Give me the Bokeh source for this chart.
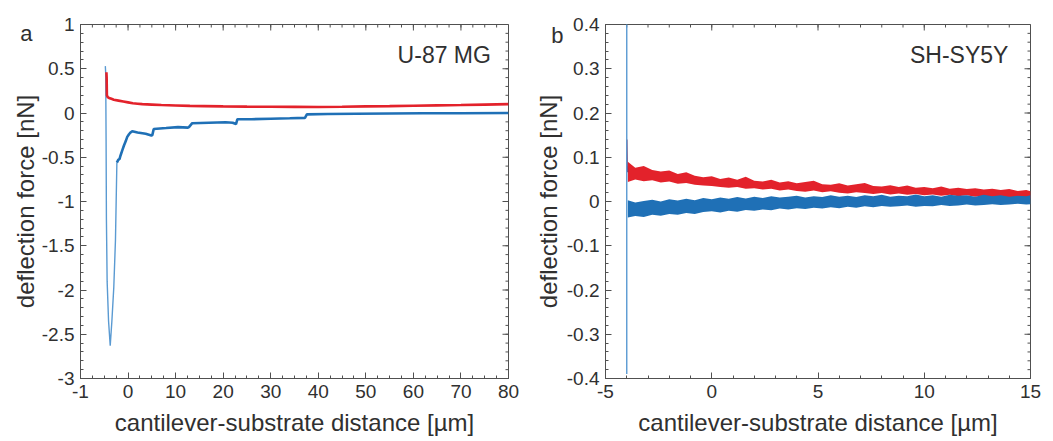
import numpy as np
from bokeh.plotting import figure
from bokeh.models import FixedTicker, Label, LinearAxis
from bokeh.layouts import row
from bokeh.embed import file_html
from bokeh.resources import INLINE

FONT = "Liberation Sans"
TXT = "#303030"
AX = "#505050"
RED = "#e3222b"
BLUE = "#1f70b6"
LIGHTBLUE = "#5a9ad2"

# ---------------- panel a : U-87 MG ----------------
a_red_x = [-4.55, -4.5, -4.45, -4.3, -4.0, -3.5, -3.0, -2.0, -1.0, 0.0, 1.0, 2.0, 3.0, 5.0, 7.0,
           10.0, 13.0, 16.0, 20.0, 25.0, 30.0, 35.0, 40.0, 45.0, 50.0, 55.0, 60.0, 65.0, 70.0, 75.0, 80.0]
a_red_y = [0.46, 0.40, 0.20, 0.18, 0.17, 0.16, 0.15, 0.14, 0.13, 0.12, 0.11, 0.105, 0.10, 0.095, 0.09,
           0.085, 0.08, 0.078, 0.075, 0.072, 0.07, 0.069, 0.068, 0.071, 0.075, 0.078, 0.082, 0.086, 0.09, 0.095, 0.10]

a_dip_x = [-4.78, -4.7, -4.62, -4.55, -4.4, -4.1, -3.75, -3.4, -3.0, -2.65, -2.5, -2.35]
a_dip_y = [0.53, 0.45, -0.3, -1.2, -1.9, -2.35, -2.63, -2.35, -1.97, -1.44, -1.0, -0.56]

a_blue_x = [-2.35, -2.06, -1.8, -1.58, -1.2, -0.88, -0.5, -0.17, 0.2, 0.53, 0.88, 2.0, 3.7, 4.9, 5.1,
            5.4, 8.0, 10.5, 12.6, 12.8, 13.5, 17.0, 20.5, 22.0, 22.7, 23.0, 26.0, 30.0, 34.0, 37.2,
            37.6, 42.0, 48.0, 55.0, 62.0, 70.0, 80.0]
a_blue_y = [-0.56, -0.53, -0.52, -0.48, -0.42, -0.37, -0.32, -0.27, -0.24, -0.22, -0.205, -0.22, -0.235, -0.255, -0.25,
            -0.18, -0.17, -0.16, -0.165, -0.16, -0.115, -0.11, -0.105, -0.11, -0.125, -0.07, -0.07, -0.065, -0.06, -0.055,
            -0.015, -0.012, -0.008, -0.005, -0.003, -0.002, 0.0]

a_xticks = [-10, 0, 10, 20, 30, 40, 50, 60, 70, 80]
a_xlabels = ["-1", "0", "10", "20", "30", "40", "50", "60", "70", "80"]
a_yticks = [-3, -2.5, -2, -1.5, -1, -0.5, 0, 0.5, 1]
a_ylabels = ["-3", "-2.5", "-2", "-1.5", "-1", "-0.5", "0", "0.5", "1"]

# ---------------- panel b : SH-SY5Y ----------------
b_x = [-3.95, -3.6, -3.2, -2.8, -2.4, -2.0, -1.6, -1.2, -0.8, -0.4, 0.0, 0.4, 0.8, 1.2, 1.6, 2.0, 2.4,
       2.8, 3.2, 3.6, 4.0, 4.4, 4.8, 5.2, 5.6, 6.0, 6.4, 6.8, 7.2, 7.6, 8.0, 8.4, 8.8, 9.2, 9.6, 10.0,
       10.4, 10.8, 11.2, 11.6, 12.0, 12.4, 12.8, 13.2, 13.6, 14.0, 14.4, 14.8, 15.0]
b_red_hi = [0.090, 0.076, 0.080, 0.071, 0.068, 0.070, 0.062, 0.066, 0.058, 0.055, 0.057, 0.051, 0.054, 0.049,
            0.056, 0.047, 0.045, 0.049, 0.043, 0.046, 0.041, 0.044, 0.047, 0.039, 0.038, 0.041, 0.036, 0.039,
            0.042, 0.035, 0.034, 0.037, 0.033, 0.036, 0.031, 0.033, 0.030, 0.034, 0.029, 0.031, 0.028, 0.030,
            0.027, 0.029, 0.026, 0.028, 0.024, 0.026, 0.023]
b_red_lo = [0.044, 0.050, 0.046, 0.048, 0.043, 0.045, 0.040, 0.042, 0.038, 0.036, 0.035, 0.033, 0.031, 0.033,
            0.029, 0.030, 0.027, 0.029, 0.025, 0.027, 0.024, 0.022, 0.025, 0.021, 0.023, 0.020, 0.018, 0.021,
            0.019, 0.017, 0.019, 0.016, 0.018, 0.015, 0.017, 0.014, 0.016, 0.013, 0.015, 0.012, 0.014, 0.011,
            0.013, 0.010, 0.012, 0.009, 0.010, 0.008, 0.007]
b_blue_hi = [0.003, -0.002, 0.001, 0.004, 0.000, 0.005, 0.002, 0.006, 0.003, 0.008, 0.005, 0.009, 0.006, 0.010,
             0.007, 0.011, 0.008, 0.012, 0.009, 0.011, 0.013, 0.009, 0.012, 0.010, 0.014, 0.011, 0.013, 0.010,
             0.014, 0.012, 0.015, 0.011, 0.013, 0.012, 0.016, 0.012, 0.014, 0.011, 0.015, 0.013, 0.014, 0.011,
             0.015, 0.012, 0.014, 0.011, 0.013, 0.012, 0.014]
b_blue_lo = [-0.036, -0.033, -0.035, -0.030, -0.032, -0.028, -0.030, -0.026, -0.028, -0.024, -0.022, -0.025,
             -0.021, -0.023, -0.019, -0.021, -0.018, -0.020, -0.016, -0.018, -0.015, -0.017, -0.014, -0.016,
             -0.013, -0.015, -0.012, -0.014, -0.011, -0.013, -0.010, -0.012, -0.011, -0.009, -0.012, -0.010,
             -0.011, -0.008, -0.010, -0.009, -0.007, -0.009, -0.008, -0.006, -0.008, -0.007, -0.005, -0.007, -0.006]
b_spike_x = [-4.0, -4.0]
b_spike_y = [0.45, -0.39]
b_redspike_x = [-4.0, -3.98, -3.95]
b_redspike_y = [0.14, 0.08, 0.066]

b_xticks = [-5, 0, 5, 10, 15]
b_xlabels = ["-5", "0", "5", "10", "15"]
b_yticks = [-0.4, -0.3, -0.2, -0.1, 0, 0.1, 0.2, 0.3, 0.4]
b_ylabels = ["-0.4", "-0.3", "-0.2", "-0.1", "0", "0.1", "0.2", "0.3", "0.4"]

FIG_H = 441
B_TOP, B_BOT = 24, 63


def style_axis(ax, ticker, labels, title):
    ax.ticker = ticker
    ax.major_tick_in = 6
    ax.major_tick_out = 0
    ax.minor_tick_in = 3
    ax.minor_tick_out = 0
    ax.axis_line_color = AX
    ax.major_tick_line_color = AX
    ax.minor_tick_line_color = AX
    ax.major_label_text_font = FONT
    ax.major_label_text_color = TXT
    ax.major_label_text_font_size = "19px"
    ax.major_label_standoff = 6
    ax.major_label_overrides = labels
    if title:
        ax.axis_label = title
        ax.axis_label_text_font = FONT
        ax.axis_label_text_font_size = "24px"
        ax.axis_label_text_font_style = "normal"
        ax.axis_label_text_color = TXT
        ax.axis_label_standoff = 8


def make_fig(width, xr, yr, xt, xminor, xl, yt, yminor, yl, bl, br, letter, letter_y, letter_off, lab_off):
    p = figure(width=width, height=FIG_H, x_range=xr, y_range=yr,
               output_backend="svg", toolbar_location=None,
               min_border_left=bl, min_border_right=br, min_border_top=B_TOP, min_border_bottom=B_BOT)
    p.grid.visible = False
    p.outline_line_color = AX
    p.background_fill_color = "white"
    p.border_fill_color = "white"
    style_axis(p.xaxis[0], FixedTicker(ticks=xt, minor_ticks=xminor), dict(zip(xt, xl)),
               "cantilever-substrate distance [µm]")
    style_axis(p.yaxis[0], FixedTicker(ticks=yt, minor_ticks=yminor), dict(zip(yt, yl)), None)
    # outer left axis: carries the panel letter and the y title
    outer = LinearAxis(ticker=FixedTicker(ticks=[letter_y]), major_label_overrides={letter_y: letter})
    outer.axis_line_color = None
    outer.major_tick_line_color = None
    outer.minor_tick_line_color = None
    outer.major_tick_in = 0
    outer.major_tick_out = 0
    outer.major_label_text_font = FONT
    outer.major_label_text_font_size = "22px"
    outer.major_label_text_color = TXT
    outer.major_label_standoff = letter_off
    outer.axis_label = "deflection force [nN]"
    outer.axis_label_text_font = FONT
    outer.axis_label_text_font_size = "24px"
    outer.axis_label_text_font_style = "normal"
    outer.axis_label_text_color = TXT
    outer.axis_label_standoff = lab_off
    p.add_layout(outer, "left")
    # mirrored inward ticks on the top and right edges
    fw = width - bl - br
    fh = FIG_H - B_TOP - B_BOT
    dx = (xr[1] - xr[0]) / fw
    dy = (yr[1] - yr[0]) / fh
    for ticks, ln in ((xt, 6), (xminor, 3)):
        p.segment(x0=ticks, y0=[yr[1]] * len(ticks), x1=ticks, y1=[yr[1] - ln * dy] * len(ticks),
                  line_color=AX, line_width=1)
    for ticks, ln in ((yt, 6), (yminor, 3)):
        p.segment(x0=[xr[1]] * len(ticks), y0=ticks, x1=[xr[1] - ln * dx] * len(ticks), y1=ticks,
                  line_color=AX, line_width=1)
    return p


p1 = make_fig(527, (-10, 80), (-3, 1), a_xticks, list(np.arange(-10, 80.1, 2.5)), a_xlabels,
              a_yticks, list(np.round(np.arange(-3, 1.01, 0.1), 2)), a_ylabels, 80, 19,
              "a", 0.9, 6, -22)
p1.line(a_dip_x, a_dip_y, line_color=LIGHTBLUE, line_width=1.4)
p1.line(a_red_x, a_red_y, line_color=RED, line_width=2.6)
p1.line(a_blue_x, a_blue_y, line_color=BLUE, line_width=2.6)
p1.add_layout(Label(x=76.3, y=0.65, text="U-87 MG", text_align="right", text_baseline="middle",
                    text_font=FONT, text_font_size="23px", text_color=TXT))

p2 = make_fig(526, (-5, 15), (-0.4, 0.4), b_xticks, list(np.arange(-5, 15.1, 1.0)), b_xlabels,
              b_yticks, list(np.round(np.arange(-0.4, 0.401, 0.02), 3)), b_ylabels, 78, 23,
              "b", 0.375, 0, -14)
p2.varea(x=b_x, y1=b_red_lo, y2=b_red_hi, fill_color=RED)
p2.varea(x=b_x, y1=b_blue_lo, y2=b_blue_hi, fill_color=BLUE)
p2.line(b_redspike_x, b_redspike_y, line_color="#8a2a55", line_width=1.5)
p2.line(b_spike_x, b_spike_y, line_color=LIGHTBLUE, line_width=1.4)
p2.add_layout(Label(x=13.96, y=0.33, text="SH-SY5Y", text_align="right", text_baseline="middle",
                    text_font=FONT, text_font_size="23px", text_color=TXT))

layout = row(p1, p2)
open("out.html", "w").write(file_html(layout, INLINE))
